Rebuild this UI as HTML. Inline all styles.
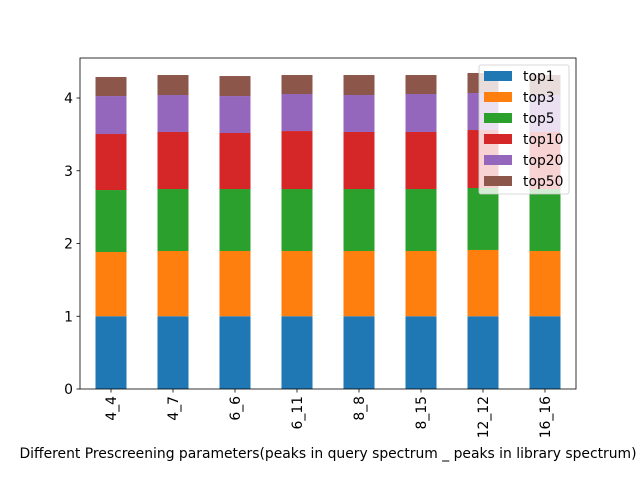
<!DOCTYPE html>
<html><head><meta charset="utf-8"><style>
body{margin:0;background:#fff;}
svg{display:block;font-family:"DejaVu Sans","Liberation Sans",sans-serif;}
</style></head><body>
<svg id="chart" width="640" height="480" xmlns="http://www.w3.org/2000/svg"></svg>
<script>
const categories = ["4_4","4_7","6_6","6_11","8_8","8_15","12_12","16_16"];
const seriesNames = ["top1","top3","top5","top10","top20","top50"];
const top1 = [1,1,1,1,1,1,1,1];
const top3 = [0.883,0.897,0.897,0.897,0.897,0.897,0.911,0.897];
const top5 = [0.852,0.852,0.852,0.852,0.852,0.852,0.852,0.852];
const top10 = [0.770,0.784,0.770,0.797,0.784,0.784,0.797,0.784];
const top20 = [0.522,0.508,0.508,0.509,0.508,0.522,0.509,0.508];
const top50 = [0.262,0.275,0.275,0.261,0.275,0.261,0.275,0.275];
const yTicks = [0,1,2,3,4];
const colors = ["#1f77b4","#ff7f0e","#2ca02c","#d62728","#9467bd","#8c564b"];
const series = [top1,top3,top5,top10,top20,top50];

const NS="http://www.w3.org/2000/svg";
const svg=document.getElementById('chart');
const L=80,R=576,T=58,B=389,yMax=4.55;
const FS=13.9;
const y=v=>B-(v/yMax)*(B-T);
const step=(R-L)/categories.length;
const xc=i=>L+step*(i+0.5);
const bw=step*0.5;
function mk(tag,attrs,parent){const e=document.createElementNS(NS,tag);for(const k in attrs)e.setAttribute(k,attrs[k]);(parent||svg).appendChild(e);return e;}

const bars=mk('g',{});


categories.forEach((c,i)=>{
  let cum=0;
  series.forEach((s,j)=>{
    const v=s[i];
    const r=mk('rect',{x:xc(i)-bw/2,y:y(cum+v),width:bw,height:y(cum)-y(cum+v),fill:colors[j]},bars);
    
    
    cum+=v;
  });
});

const ax=mk('rect',{x:L,y:T,width:R-L,height:B-T,fill:'none',stroke:'#000','stroke-width':0.8});



yTicks.forEach(t=>{
  const yy=y(t);
  const ln=mk('line',{x1:L-3.5,x2:L,y1:yy,y2:yy,stroke:'#000','stroke-width':0.8});
  
  
  const tx=mk('text',{x:L-7,y:yy+5,'text-anchor':'end','font-size':FS});
  tx.textContent=t;
  
  
});
categories.forEach((c,i)=>{
  const xx=xc(i);
  const ln=mk('line',{x1:xx,x2:xx,y1:B,y2:B+3.5,stroke:'#000','stroke-width':0.8});
  
  
  const tx=mk('text',{x:0,y:0,'text-anchor':'end','font-size':FS,transform:`translate(${xx+5},${B+7}) rotate(-90)`});
  tx.textContent=c;
  
  
});
const xt=mk('text',{x:328,y:458,'text-anchor':'middle','font-size':FS});
xt.textContent='Different Prescreening parameters(peaks in query spectrum _ peaks in library spectrum)';



const lg=mk('g',{});


mk('rect',{x:479,y:65,width:90,height:129,rx:2,fill:'#fff','fill-opacity':0.8,stroke:'#ccc','stroke-width':0.8},lg);
seriesNames.forEach((n,j)=>{
  const yy=71+j*21;
  const sw=mk('rect',{x:484,y:yy,width:28,height:10,fill:colors[j]},lg);
  
  
  const tx=mk('text',{x:523,y:yy+10,'font-size':FS},lg);
  tx.textContent=n;
  
  
});
</script>
</body></html>
